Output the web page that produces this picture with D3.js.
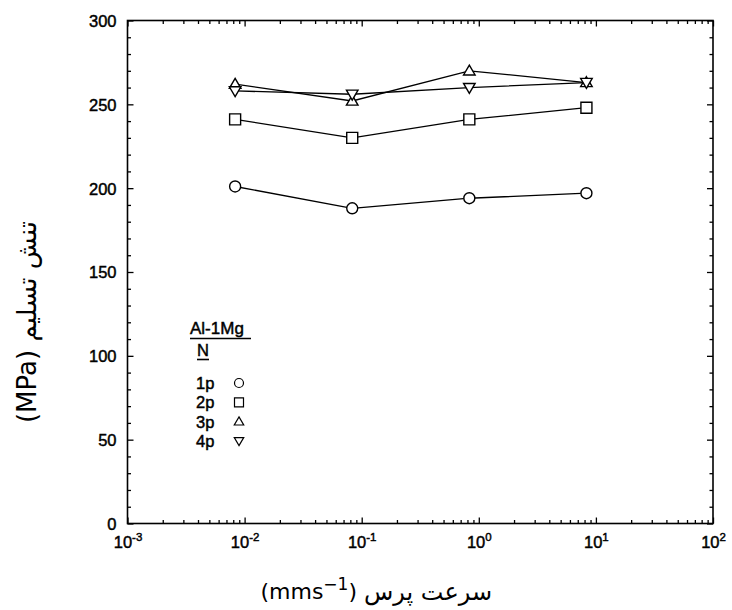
<!DOCTYPE html>
<html>
<head>
<meta charset="utf-8">
<script src="https://cdn.jsdelivr.net/npm/d3@7/dist/d3.min.js"></script>
<style>
  html, body { margin: 0; padding: 0; background: #fff; }
  svg { display: block; }
  .tick text { font-family: "Liberation Sans", Arial, sans-serif; fill: #000; stroke: #000; stroke-width: 0.45px; }
</style>
</head>
<body>
<svg id="chart" width="732" height="610"></svg>
<script>
// Press speed (mm/s) at which each specimen set was tested
const speeds = [0.0083, 0.083, 0.83, 8.3];

// Yield stress (MPa) for each number of ECAP passes
const pass1 = [201, 188, 194, 197];
const pass2 = [241, 230, 241, 248];
const pass3 = [262, 252, 270, 263];
const pass4 = [258, 256, 260, 263];

const seriesNames = ["1p", "2p", "3p", "4p"];
const seriesSymbols = ["circle", "square", "triangleUp", "triangleDown"];

// Axis ticks
const yMajor = [0, 50, 100, 150, 200, 250, 300];
const xDecades = [-3, -2, -1, 0, 1, 2];

const svg = d3.select("#chart");
svg.append("rect").attr("width", 732).attr("height", 610).attr("fill", "#fff");

const plotLeft = 127.5, plotRight = 713, plotTop = 20.5, plotBottom = 523.5;

const x = d3.scaleLog().domain([1e-3, 1e2]).range([plotLeft, plotRight]);
const y = d3.scaleLinear().domain([0, 300]).range([plotBottom, plotTop]);

const yMinor = d3.range(0, 301, 10).filter(v => v % 50 !== 0);
const xMinor = [];
xDecades.slice(0, -1).forEach(e => {
  for (let m = 2; m <= 9; m++) xMinor.push(m * Math.pow(10, e));
});
const xMajor = xDecades.map(e => Math.pow(10, e));

function styleAxis(g) {
  g.select(".domain").remove();
  g.selectAll(".tick line").attr("stroke", "#000").attr("stroke-width", 1.3);
}

// Left axis with labels
const gL = svg.append("g").attr("transform", `translate(${plotLeft},0)`)
  .call(d3.axisLeft(y).tickValues(yMajor).tickSize(-6).tickPadding(11).tickFormat(d3.format("d")));
styleAxis(gL);
gL.selectAll(".tick text").attr("font-size", 16.5).attr("dy", "0.36em");
svg.append("g").attr("transform", `translate(${plotLeft},0)`)
  .call(d3.axisLeft(y).tickValues(yMinor).tickSize(-3.5).tickFormat(""))
  .call(styleAxis);

// Right axis (ticks only)
svg.append("g").attr("transform", `translate(${plotRight},0)`)
  .call(d3.axisRight(y).tickValues(yMajor).tickSize(-6).tickFormat(""))
  .call(styleAxis);
svg.append("g").attr("transform", `translate(${plotRight},0)`)
  .call(d3.axisRight(y).tickValues(yMinor).tickSize(-3.5).tickFormat(""))
  .call(styleAxis);

// Bottom axis with power-of-ten labels
const gB = svg.append("g").attr("transform", `translate(0,${plotBottom})`)
  .call(d3.axisBottom(x).tickValues(xMajor).tickSize(-6).tickPadding(10).tickFormat(""));
styleAxis(gB);
gB.selectAll(".tick text").each(function(d) {
  const t = d3.select(this).attr("font-size", 16.5).attr("dy", "0.9em");
  t.append("tspan").text("10");
  t.append("tspan").attr("font-size", 11.5).attr("dy", "-0.6em").text(Math.round(Math.log10(d)));
});
svg.append("g").attr("transform", `translate(0,${plotBottom})`)
  .call(d3.axisBottom(x).tickValues(xMinor).tickSize(-3.5).tickFormat(""))
  .call(styleAxis);

// Top axis (ticks only)
svg.append("g").attr("transform", `translate(0,${plotTop})`)
  .call(d3.axisTop(x).tickValues(xMajor).tickSize(-6).tickFormat(""))
  .call(styleAxis);
svg.append("g").attr("transform", `translate(0,${plotTop})`)
  .call(d3.axisTop(x).tickValues(xMinor).tickSize(-3.5).tickFormat(""))
  .call(styleAxis);

// Plot frame
svg.append("rect")
  .attr("x", plotLeft).attr("y", plotTop)
  .attr("width", plotRight - plotLeft).attr("height", plotBottom - plotTop)
  .attr("fill", "none").attr("stroke", "#000").attr("stroke-width", 1.6);

// Marker path generators
function markerPath(kind, s) {
  const h = s / 2;
  switch (kind) {
    case "circle": return d3.symbol(d3.symbolCircle, Math.PI * h * h)();
    case "square": return `M${-h},${-h}H${h}V${h}H${-h}Z`;
    case "triangleUp": return `M0,${-h * 1.05}L${h * 1.05},${h * 0.75}L${-h * 1.05},${h * 0.75}Z`;
    case "triangleDown": return `M0,${h * 1.05}L${h * 1.05},${-h * 0.75}L${-h * 1.05},${-h * 0.75}Z`;
  }
}

const allSeries = [pass1, pass2, pass3, pass4];
const line = d3.line().x((d, i) => x(speeds[i])).y(d => y(d));

allSeries.forEach((vals, k) => {
  svg.append("path").datum(vals)
    .attr("d", line)
    .attr("fill", "none").attr("stroke", "#000").attr("stroke-width", 1.3);
});
allSeries.forEach((vals, k) => {
  svg.append("g").selectAll("path").data(vals).join("path")
    .attr("transform", (d, i) => `translate(${x(speeds[i])},${y(d)})`)
    .attr("d", markerPath(seriesSymbols[k], 11))
    .attr("fill", "#fff").attr("stroke", "#000").attr("stroke-width", 1.4);
});

// Legend
const lg = svg.append("g").attr("font-family", "Liberation Sans, Arial, sans-serif")
  .attr("fill", "#000").attr("stroke", "#000").attr("stroke-width", 0.45);
lg.append("text").attr("x", 190).attr("y", 334).attr("font-size", 17).text("Al-1Mg");
lg.append("line").attr("x1", 190).attr("x2", 251).attr("y1", 338.5).attr("y2", 338.5)
  .attr("stroke-width", 1.7);
lg.append("text").attr("x", 197).attr("y", 356).attr("font-size", 16.5).text("N");
lg.append("line").attr("x1", 197).attr("x2", 209).attr("y1", 359.5).attr("y2", 359.5)
  .attr("stroke-width", 1.6);
seriesNames.forEach((name, k) => {
  const cy = 383 + k * 19.3;
  lg.append("text").attr("x", 196).attr("y", cy + 6).attr("font-size", 16.5).text(name);
  lg.append("path").attr("transform", `translate(239,${cy})`)
    .attr("d", markerPath(seriesSymbols[k], 9))
    .attr("fill", "#fff").attr("stroke-width", 1.2);
});

// Axis titles
svg.append("text")
  .attr("transform", "translate(36,322) rotate(-90)")
  .attr("text-anchor", "middle")
  .attr("font-family", "DejaVu Sans, Noto Sans, sans-serif")
  .attr("font-size", 26)
  .style("unicode-bidi", "plaintext")
  .attr("direction", "rtl")
  .text("تنش تسلیم  (MPa)");

const xt = svg.append("g").attr("font-size", 22).attr("fill", "#000");
xt.append("text")
  .attr("x", 357).attr("y", 599)
  .attr("text-anchor", "end")
  .attr("font-family", "DejaVu Sans, sans-serif")
  .call(t => {
    t.append("tspan").text("(mms");
    t.append("tspan").attr("font-size", 17).attr("dy", -9).text("−1");
    t.append("tspan").attr("dy", 9).text(")");
  });
xt.append("text")
  .attr("x", 364).attr("y", 600)
  .attr("text-anchor", "start")
  .attr("font-family", "DejaVu Sans, sans-serif")
  .attr("font-size", 24)
  .text("سرعت پرس");
</script>
</body>
</html>
